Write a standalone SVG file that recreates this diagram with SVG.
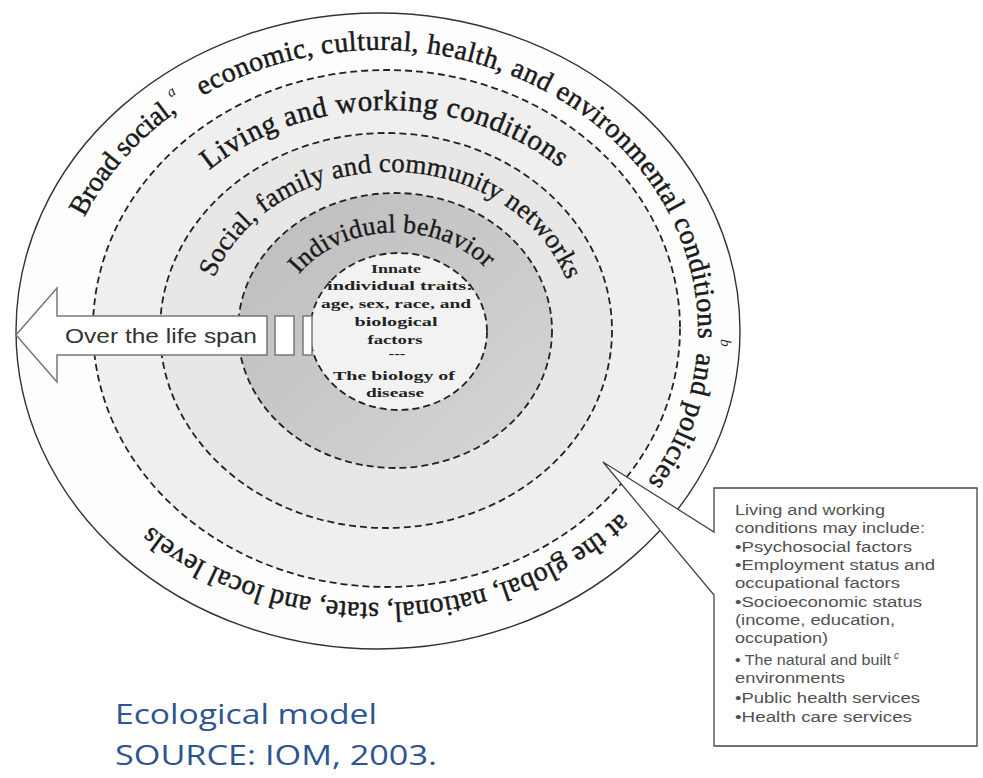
<svg xmlns="http://www.w3.org/2000/svg" width="983" height="778" viewBox="0 0 983 778">
<style>
.ring{stroke:#222;stroke-width:1.8;stroke-dasharray:7 4;}
.band{font-family:"Liberation Serif","Times New Roman",serif;fill:#1a1a1a;stroke:#1a1a1a;stroke-width:0.5;font-size:28px;}
.thin{stroke-width:0.35;}
.sup{font-family:"Liberation Serif","Times New Roman",serif;font-style:italic;font-size:15px;fill:#222;}
.inner{font-family:"Liberation Serif","Times New Roman",serif;font-weight:bold;font-size:13px;fill:#222;text-anchor:middle;}
.call{font-family:"Liberation Sans",Arial,sans-serif;font-size:14px;fill:#505050;}
.cap{font-family:"Open Sans","Noto Sans",sans-serif;font-size:28px;fill:#2d5590;}
.box{fill:#fff;stroke:#777;stroke-width:1.5;}
</style>
<defs>
<linearGradient id="g4" x1="0" y1="0" x2="1" y2="1"><stop offset="0" stop-color="#bcbcbc"/><stop offset="1" stop-color="#d6d6d6"/></linearGradient>
<path id="p1a" d="M84.6,217.2 A320,281 0 0 1 538,87.6"/>
<path id="p1b" d="M202.3,96.1 A320,281 0 1 1 538,574.3"/>
<path id="p1c" d="M697,353 A320,281 0 0 1 378,612"/>
<path id="psa" d="M170.5,97.7 A337,296 0 0 1 331.1,37.9"/>
<path id="psb" d="M720.9,338.9 A343,300 0 0 1 675,481"/>
<path id="pbot" d="M620.3,513 A326,272 0 0 1 52,331"/>
<path id="p2" d="M209.1,170.4 A257,220 0 0 1 643,330"/>
<path id="p3" d="M214.3,278 A186,158 0 0 1 576,330"/>
<path id="p4" d="M298.9,274.4 A117,97.5 0 0 1 512,330"/>
</defs>
<rect width="983" height="778" fill="#fff"/>
<g id="ring-broad">
<ellipse cx="378" cy="331" rx="362" ry="318" fill="#fefefe" stroke="#333" stroke-width="1.4"/>
<text class="band"><textPath href="#p1a" textLength="142">Broad social,</textPath></text>
<text class="sup"><textPath href="#psa">a</textPath></text>
<text class="band"><textPath href="#p1b" textLength="664">economic, cultural, health, and environmental conditions</textPath></text>
<text class="sup"><textPath href="#psb">b</textPath></text>
<text class="band"><textPath href="#p1c" textLength="140">and policies</textPath></text>
<text class="band"><textPath href="#pbot" textLength="509">at the global, national, state, and local levels</textPath></text>
</g>
<g id="ring-living">
<ellipse cx="386.5" cy="328.5" rx="293.5" ry="258.5" fill="#efefef" class="ring"/>
<text class="band" style="font-size:29px"><textPath href="#p2" textLength="377">Living and working conditions</textPath></text>
</g>
<g id="ring-social">
<ellipse cx="386" cy="330.5" rx="226" ry="197.5" fill="#e7e7e7" class="ring"/>
<text class="band thin" style="font-size:27px"><textPath href="#p3" textLength="437">Social, family and community networks</textPath></text>
</g>
<g id="ring-individual">
<ellipse cx="395" cy="330.5" rx="157" ry="137.5" fill="url(#g4)" class="ring"/>
<text class="band thin" style="font-size:26px"><textPath href="#p4" textLength="208">Individual behavior</textPath></text>
</g>
<g id="core">
<ellipse cx="398.5" cy="331.5" rx="88.5" ry="78.5" fill="#f2f2f2" class="ring"/>
<text class="inner" x="396" y="273" textLength="50" lengthAdjust="spacingAndGlyphs">Innate</text>
<text class="inner" x="400" y="290" textLength="146" lengthAdjust="spacingAndGlyphs">individual traits:</text>
<text class="inner" x="396" y="308" textLength="150" lengthAdjust="spacingAndGlyphs">age, sex, race, and</text>
<text class="inner" x="396" y="326" textLength="83" lengthAdjust="spacingAndGlyphs">biological</text>
<text class="inner" x="395" y="344" textLength="55" lengthAdjust="spacingAndGlyphs">factors</text>
<text class="inner" x="397" y="358" textLength="17" lengthAdjust="spacingAndGlyphs">---</text>
<text class="inner" x="394" y="380" textLength="122" lengthAdjust="spacingAndGlyphs">The biology of</text>
<text class="inner" x="395" y="397" textLength="58" lengthAdjust="spacingAndGlyphs">disease</text>
</g>
<g id="arrow-lifespan">
<polygon class="box" points="16,335 57,288 57,316 267,316 267,355 57,355 57,382"/>
<rect class="box" x="275" y="316" width="19" height="39"/>
<rect class="box" x="303" y="316" width="9" height="39"/>
<text x="65" y="343" style="font-family:'Liberation Sans',Arial,sans-serif;font-size:20px;fill:#333" textLength="192" lengthAdjust="spacingAndGlyphs">Over the life span</text>
</g>
<g id="callout">
<path d="M714,488 H977 V746 H714 V595 L603,462 L714,532 Z" fill="#fff" stroke="#444" stroke-width="1.3"/>
<text class="call" x="735" y="515" textLength="150" lengthAdjust="spacingAndGlyphs">Living and working</text>
<text class="call" x="735" y="533" textLength="190" lengthAdjust="spacingAndGlyphs">conditions may include:</text>
<text class="call" x="735" y="552" textLength="177" lengthAdjust="spacingAndGlyphs">•Psychosocial factors</text>
<text class="call" x="735" y="570" textLength="200" lengthAdjust="spacingAndGlyphs">•Employment status and</text>
<text class="call" x="735" y="588" textLength="165" lengthAdjust="spacingAndGlyphs">occupational factors</text>
<text class="call" x="735" y="607" textLength="187" lengthAdjust="spacingAndGlyphs">•Socioeconomic status</text>
<text class="call" x="735" y="625" textLength="160" lengthAdjust="spacingAndGlyphs">(income, education,</text>
<text class="call" x="735" y="643" textLength="93" lengthAdjust="spacingAndGlyphs">occupation)</text>
<text class="call" x="735" y="665" textLength="156" lengthAdjust="spacingAndGlyphs">• The natural and built</text>
<text class="call" x="894" y="659" style="font-size:10px;font-style:italic">c</text>
<text class="call" x="735" y="683" textLength="110" lengthAdjust="spacingAndGlyphs">environments</text>
<text class="call" x="735" y="703" textLength="185" lengthAdjust="spacingAndGlyphs">•Public health services</text>
<text class="call" x="735" y="722" textLength="177" lengthAdjust="spacingAndGlyphs">•Health care services</text>
</g>
<g id="caption">
<text class="cap" x="115" y="724" textLength="262" lengthAdjust="spacingAndGlyphs">Ecological model</text>
<text class="cap" x="115" y="765" textLength="322" lengthAdjust="spacingAndGlyphs">SOURCE: IOM, 2003.</text>
</g>
</svg>
